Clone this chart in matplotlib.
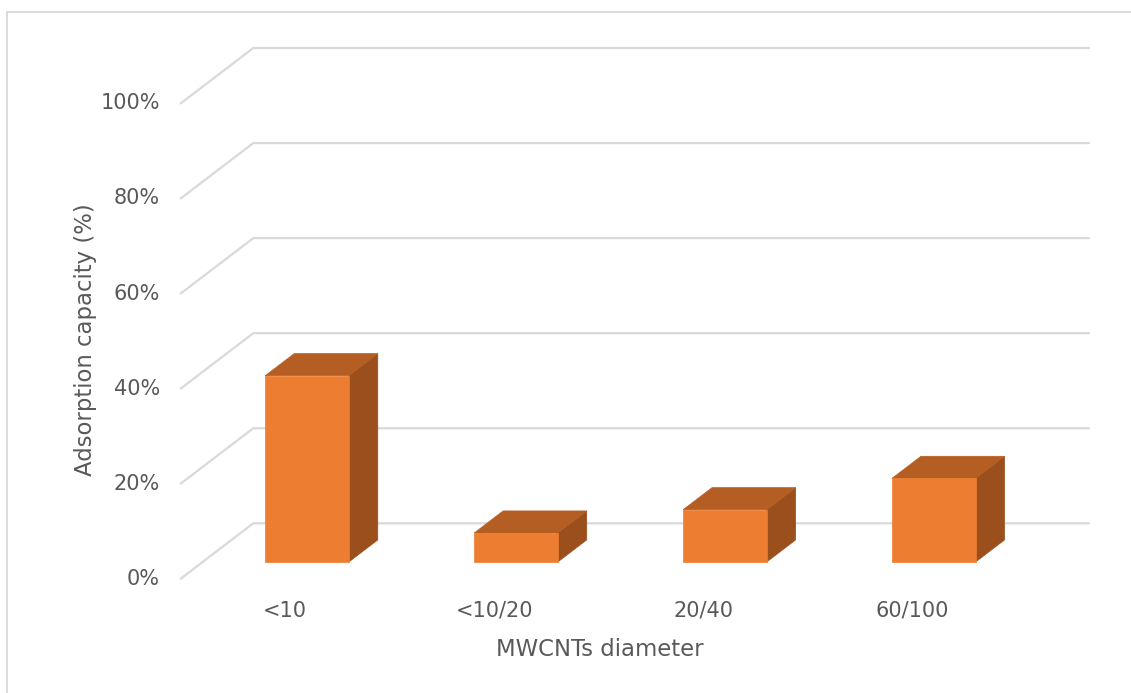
import matplotlib
matplotlib.use("Agg")
import matplotlib.pyplot as plt
from matplotlib.patches import Polygon
from matplotlib.lines import Line2D
from matplotlib.transforms import offset_copy

# ---- data ----
categories = ["<10", "<10/20", "20/40", "60/100"]
adsorption = [39.2, 6.1, 11.0, 17.6]          # adsorption capacity, %
y_ticks = [0, 20, 40, 60, 80, 100]
y_tick_labels = ["0%", "20%", "40%", "60%", "80%", "100%"]
x_title = "MWCNTs diameter"
y_title = "Adsorption capacity (%)"

# ---- styling ----
FRONT = "#ED7D31"
TOP = "#B55E23"
SIDE = "#9A4F1C"
GRID = "#D9D9D9"
TEXT = "#595959"
FONT = ["DejaVu Sans"]

W, H = 1131, 693
fig = plt.figure(figsize=(W / 100, H / 100), dpi=100)
fig.patch.set_facecolor("white")

# plot area = front edge of the floor (category 0..n, value 0..100)
ax = fig.add_axes([180.7 / W, (H - 578.7) / H, 835.7 / W, 475.3 / H])
ax.set_xlim(0, len(categories))
ax.set_ylim(0, 100)
ax.axis("off")

# oblique depth offset for the 3-D walls (per unit of depth)
DX = 72.6 / 208.9    # in category units
DY = 55.4 / 4.753    # in percent units


def proj(x, v, d):
    return (x + d * DX, v + d * DY)


n = len(categories)

# gridlines on the side wall and back wall
for v in y_ticks:
    pts = [proj(0, v, 0), proj(0, v, 1), proj(n, v, 1)]
    ax.plot([p[0] for p in pts], [p[1] for p in pts], color=GRID, lw=1.6,
            solid_capstyle="round", solid_joinstyle="round", clip_on=False, zorder=1)

# 3-D columns
bar_w = 0.4
d0, d1 = 0.3, 0.7
for i, h in enumerate(adsorption):
    x0 = i + 0.5 - bar_w / 2
    x1 = i + 0.5 + bar_w / 2
    side = [proj(x1, 0, d0), proj(x1, 0, d1), proj(x1, h, d1), proj(x1, h, d0)]
    top = [proj(x0, h, d0), proj(x1, h, d0), proj(x1, h, d1), proj(x0, h, d1)]
    front = [proj(x0, 0, d0), proj(x1, 0, d0), proj(x1, h, d0), proj(x0, h, d0)]
    for poly, col in ((side, SIDE), (top, TOP), (front, FRONT)):
        ax.add_patch(Polygon(poly, closed=True, facecolor=col, edgecolor=col,
                             lw=0.5, clip_on=False, zorder=3))

# value axis labels
ytr = offset_copy(ax.transData, fig=fig, x=-15, y=0, units="points")
for v, lab in zip(y_ticks, y_tick_labels):
    ax.text(0, v, lab, transform=ytr, ha="right", va="center",
            fontsize=15, color=TEXT, family=FONT)

# category labels
xtr = offset_copy(ax.transData, fig=fig, x=0, y=-23, units="points")
for i, lab in enumerate(categories):
    ax.text(i + 0.5, 0, lab, transform=xtr, ha="center", va="center",
            fontsize=15, color=TEXT, family=FONT)

# axis titles
fig.text(600 / W, 1 - 650 / H, x_title, ha="center", va="center",
         fontsize=16.4, color=TEXT, family=FONT)
fig.text(86 / W, 1 - 340 / H, y_title, ha="center", va="center", rotation=90,
         fontsize=16.4, color=TEXT, family=FONT)

# chart frame
fig.add_artist(Line2D([7.3 / W, 7.3 / W], [0, 1 - 12 / H], color=GRID, lw=1.3))
fig.add_artist(Line2D([7.3 / W, 1], [1 - 12 / H, 1 - 12 / H], color=GRID, lw=1.3))

fig.savefig("out.png", dpi=100, facecolor="white")
